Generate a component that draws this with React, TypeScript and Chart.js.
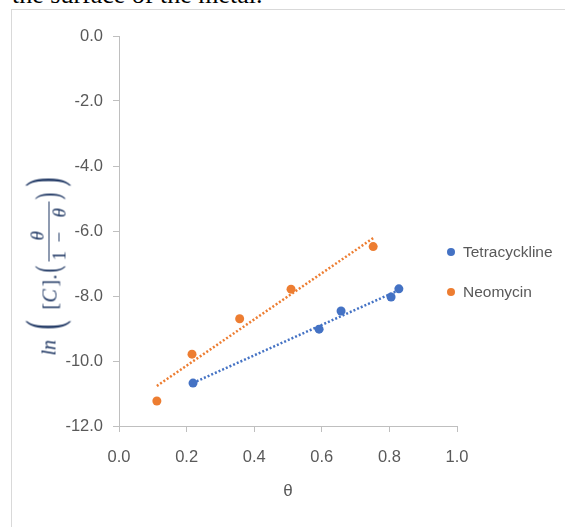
import React, { useEffect, useRef } from 'react';
import { Chart, registerables } from 'chart.js';

Chart.register(...registerables);

// ---- data ----
const tetraTheta = [0.219, 0.592, 0.657, 0.805, 0.828];
const tetraLn = [-10.68, -9.02, -8.46, -8.03, -7.78];
const neoTheta = [0.112, 0.216, 0.357, 0.509, 0.752];
const neoLn = [-11.23, -9.79, -8.7, -7.79, -6.48];
const seriesNames = ['Tetracyckline', 'Neomycin'];
const seriesColors = ['#4472C4', '#ED7D31'];
const xAxisTitle = 'θ';
const xRange = [0, 1, 0.2];
const yRange = [-12, 0, 2];

const TICK_FONT = "'Liberation Sans', Arial, sans-serif";
const NAVY = '#203864';

// least-squares trendline (as Excel draws it) from the data arrays
function trend(xs: number[], ys: number[]) {
  const n = xs.length;
  const mx = xs.reduce((a, b) => a + b, 0) / n;
  const my = ys.reduce((a, b) => a + b, 0) / n;
  let sxy = 0, sxx = 0;
  for (let i = 0; i < n; i++) {
    sxy += (xs[i] - mx) * (ys[i] - my);
    sxx += (xs[i] - mx) * (xs[i] - mx);
  }
  const b = sxy / sxx;
  const a = my - b * mx;
  const x0 = Math.min(...xs);
  const x1 = Math.max(...xs);
  return [{ x: x0, y: a + b * x0 }, { x: x1, y: a + b * x1 }];
}

const toPts = (xs: number[], ys: number[]) => xs.map((x, i) => ({ x, y: ys[i] }));

const sideLegend = {
  id: 'sideLegend',
  afterDraw(chart: any) {
    const { ctx, chartArea } = chart;
    const items = chart.data.datasets.filter((d: any) => d.inLegend);
    ctx.save();
    items.forEach((d: any, i: number) => {
      const cx = chartArea.right - 6;
      const cy = chartArea.top + 216 + i * 40;
      ctx.beginPath();
      ctx.arc(cx, cy, 4, 0, Math.PI * 2);
      ctx.fillStyle = d.backgroundColor;
      ctx.fill();
      ctx.fillStyle = '#595959';
      ctx.font = `15.5px ${TICK_FONT}`;
      ctx.textAlign = 'left';
      ctx.textBaseline = 'middle';
      ctx.fillText(d.label, cx + 12, cy + 1);
    });
    ctx.restore();
  },
};

function YTitle() {
  const T = (text: string, u: number, base: number, fs: number, italic = false, sx = 1) => (
    <span
      style={{
        position: 'absolute',
        left: u,
        top: base - 0.8375 * fs,
        fontSize: fs,
        lineHeight: 1,
        fontStyle: italic ? 'italic' : 'normal',
        transform: sx !== 1 ? `scaleX(${sx})` : undefined,
        transformOrigin: 'left top',
        whiteSpace: 'pre',
      }}
    >
      {text}
    </span>
  );
  return (
    <div
      style={{
        position: 'absolute',
        left: 48 - 91,
        top: 265 - 23.5,
        width: 182,
        height: 47,
        transform: 'rotate(-90deg)',
        transformOrigin: 'center center',
        fontFamily: "'Liberation Serif', 'DejaVu Serif', serif",
        color: NAVY,
      }}
    >
      {T('ln', 1, 31, 20, true)}
      {T('(', 27, 35.5, 50, false, 0.55)}
      {T('[', 47, 32, 20)}
      {T('C', 54, 32, 20, true)}
      {T(']', 70, 32, 20)}
      {T('.', 77, 32, 20)}
      {T('(', 84, 34, 34, false, 0.6)}
      {T('θ', 116, 19, 19, true)}
      <div style={{ position: 'absolute', left: 95, top: 24, width: 60, height: 0, borderTop: `1px solid ${NAVY}` }} />
      {T('1', 96, 41, 19)}
      {T('−', 114, 41, 19)}
      {T('θ', 139, 41, 19, true)}
      {T(')', 157, 34, 34, false, 0.6)}
      {T(')', 170, 35.5, 50, false, 0.55)}
    </div>
  );
}

export default function App() {
  const ref = useRef<HTMLCanvasElement | null>(null);

  useEffect(() => {
    if (!ref.current) return;
    const chart = new Chart(ref.current, {
      type: 'scatter',
      data: {
        datasets: [
          {
            label: seriesNames[0],
            data: toPts(tetraTheta, tetraLn),
            backgroundColor: seriesColors[0],
            borderColor: seriesColors[0],
            pointRadius: 4.5,
            pointBorderWidth: 0,
            inLegend: true,
          } as any,
          {
            label: seriesNames[1],
            data: toPts(neoTheta, neoLn),
            backgroundColor: seriesColors[1],
            borderColor: seriesColors[1],
            pointRadius: 4.5,
            pointBorderWidth: 0,
            inLegend: true,
          } as any,
          {
            label: seriesNames[0] + ' trend',
            data: trend(tetraTheta, tetraLn),
            showLine: true,
            borderColor: seriesColors[0],
            borderWidth: 2.5,
            borderDash: [2, 2],
            pointRadius: 0,
            order: 5,
          },
          {
            label: seriesNames[1] + ' trend',
            data: trend(neoTheta, neoLn),
            showLine: true,
            borderColor: seriesColors[1],
            borderWidth: 2.5,
            borderDash: [2, 2],
            pointRadius: 0,
            order: 5,
          },
        ],
      },
      options: {
        animation: false,
        responsive: false,
        devicePixelRatio: 1,
        layout: { padding: { left: 0, top: 36, right: 108, bottom: 0 } },
        plugins: { legend: { display: false }, tooltip: { enabled: false } },
        scales: {
          x: {
            type: 'linear',
            min: xRange[0],
            max: xRange[1],
            afterFit: (s: any) => { s.height = 101; },
            grid: { display: true, drawOnChartArea: false, drawTicks: true, tickLength: 6, color: '#bfbfbf' },
            border: { display: true, color: '#bfbfbf', width: 1 },
            ticks: {
              stepSize: xRange[2],
              padding: 16,
              color: '#595959',
              font: { family: TICK_FONT, size: 16.5 },
              callback: (v: any) => Number(v).toFixed(1),
            },
            title: {
              display: true,
              text: xAxisTitle,
              color: '#595959',
              font: { family: TICK_FONT, size: 17 },
              padding: { top: 0, bottom: 25 },
            },
          },
          y: {
            type: 'linear',
            min: yRange[0],
            max: yRange[1],
            afterFit: (s: any) => { s.width = 119; },
            grid: { display: true, drawOnChartArea: false, drawTicks: true, tickLength: 6, color: '#bfbfbf' },
            border: { display: true, color: '#bfbfbf', width: 1 },
            ticks: {
              stepSize: yRange[2],
              padding: 10,
              color: '#595959',
              font: { family: TICK_FONT, size: 16.5 },
              callback: (v: any) => Number(v).toFixed(1),
            },
          },
        },
      },
      plugins: [sideLegend],
    });
    return () => chart.destroy();
  }, []);

  return (
    <div style={{ position: 'fixed', left: 0, top: 0, width: 565, height: 527, background: '#fff', overflow: 'hidden' }}>
      <div
        style={{
          position: 'absolute',
          left: 12,
          top: 4 - 0.8375 * 26,
          fontFamily: "'Liberation Serif', 'Times New Roman', serif",
          fontSize: 26,
          lineHeight: 1,
          color: '#000',
          whiteSpace: 'pre',
        }}
      >
        the surface of the metal.
      </div>
      <div
        style={{
          position: 'absolute',
          left: 11,
          top: 9,
          width: 600,
          height: 600,
          borderTop: '1px solid #d9d9d9',
          borderLeft: '1px solid #d9d9d9',
        }}
      />
      <canvas ref={ref} width={565} height={527} style={{ position: 'absolute', left: 0, top: 0, display: 'block' }} />
      <YTitle />
    </div>
  );
}
